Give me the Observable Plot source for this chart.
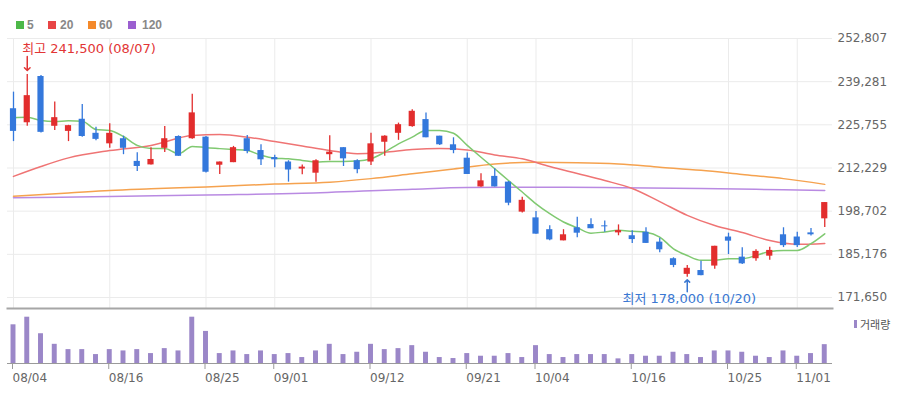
<!DOCTYPE html>
<html><head><meta charset="utf-8">
<script src="https://cdn.jsdelivr.net/npm/d3@7"></script>
<script src="https://cdn.jsdelivr.net/npm/@observablehq/plot@0.6"></script>
<style>
html,body{margin:0;padding:0;background:#fff;}
#wrap{position:relative;width:905px;height:395px;overflow:hidden;font-family:"DejaVu Sans","Noto Sans CJK KR",sans-serif;}
.sq{position:absolute;width:8px;height:8px;top:21px;}
.lg{position:absolute;font:bold 12px "Liberation Sans",Arial,sans-serif;color:#888;line-height:12px;top:19px;}
</style></head><body><div id="wrap"></div>
<script>
// ---- data ----
const dates = ["08/04","08/07","08/08","08/09","08/10","08/11","08/14","08/16","08/17","08/18",
"08/21","08/22","08/23","08/24","08/25","08/28","08/29","08/30","08/31","09/01",
"09/04","09/05","09/06","09/07","09/08","09/11","09/12","09/13","09/14","09/15",
"09/18","09/19","09/20","09/21","09/22","09/25","09/26","09/27","10/04","10/05",
"10/06","10/10","10/11","10/12","10/13","10/16","10/17","10/18","10/19","10/20",
"10/23","10/24","10/25","10/26","10/27","10/30","10/31","11/01","11/02","11/03"];

const opens = [230800,226400,240900,225300,223700,227500,223100,219800,221400,214300,
213200,218400,222100,221400,221900,213100,213900,221400,217700,215500,
214100,211900,210600,216400,218600,214500,214100,220300,223100,225200,
227400,222200,219500,215300,206300,209600,207800,198400,196600,192900,
189400,193500,194500,194100,191900,191000,192100,189000,183800,178900,
180100,181500,190600,184300,183800,184600,191300,190600,191900,196300];
const highs = [236000,241500,241200,232900,225600,232100,225000,226100,222200,217000,
218600,225200,222300,235300,222100,214100,219000,222400,219500,216200,
214500,213200,214800,222300,218600,214800,223100,222300,226300,230500,
229500,222200,221700,216900,210400,212000,208000,203100,198600,194100,
192900,196800,196300,195600,194400,192600,193500,190200,184100,181700,
183000,187700,191800,187200,186600,187400,193500,192100,193300,201400];
const lows = [220500,225300,223200,224000,220500,221900,220800,218400,216400,211100,
213200,217100,215900,221200,210700,210200,213900,216700,213000,212300,
207800,210100,207800,214500,212700,210400,213000,215900,220900,225000,
221700,219300,216700,210200,206200,206300,200400,198100,191500,189400,
189400,190400,193200,192100,191000,188600,188600,185700,181000,178000,
178500,180500,185100,182000,183000,183300,187300,187300,190900,193600];
const closes = [223700,234900,223400,228000,225500,222100,221200,223100,218400,212700,
214900,221400,215900,229500,210900,214100,218600,217400,214800,214800,
211600,212500,214500,217200,215100,211700,219800,222200,225800,230000,
221700,219500,217700,210200,208200,206300,201200,202100,191500,189700,
191300,191800,193200,193800,192600,189800,188600,186600,181700,180800,
178500,187700,189300,182200,186100,186400,187900,187900,191300,201400];

const volumes = [117,140,90,58,42,42,27,42,38,42,
30,45,38,140,97,30,38,27,38,27,
30,18,38,58,27,34,58,42,45,54,
34,18,15,30,22,22,30,18,54,27,
18,27,27,27,14,27,22,22,34,27,
18,38,38,34,22,18,38,22,30,57];

const ma5 = [228000,228100,227100,226800,227000,226900,224300,224000,222100,219300,
218300,218300,216700,219000,218600,218300,218000,217700,216200,215300,
215100,214600,214100,214300,214300,214400,215100,217200,219800,221900,
224000,224000,223100,219300,215600,212000,208300,204700,201000,197900,
195300,193500,191800,192200,192700,192400,192100,190600,186900,184800,
183300,183300,183800,183800,184800,186100,186400,186400,188500,191600];

const ma20Dates = ["08/04","08/08","08/10","08/16","08/21","08/24","08/28","08/30","09/01","09/05",
"09/07","09/11","09/13","09/15","09/19","09/21","09/25","09/27","10/05","10/10",
"10/12","10/16","10/18","10/20","10/24","10/26","10/30","11/01","11/03"];
const ma20 = [209600,212700,215400,217700,219300,222400,222700,221900,220500,219100,
217700,216700,217200,218000,218300,217900,216300,215100,212700,210500,
208300,205800,201700,197400,194200,192000,189500,188300,188600];

const ma60Dates = ["08/04","08/10","08/16","08/21","08/25","09/01","09/07","09/12","09/15","09/20",
"09/25","10/04","10/10","10/13","10/18","10/23","10/26","10/31","11/03"];
const ma60 = [203400,204400,205200,205700,206300,207200,207800,208900,210400,211900,
213500,214000,213900,213500,212500,211500,210200,208900,207100];

const ma120Dates = ["08/04","08/16","08/25","09/05","09/15","09/21","10/04","10/12","10/23","10/31","11/03"];
const ma120 = [202900,203300,203800,204300,205600,206100,206200,206100,205800,205400,205200];

const priceTicks = [252807,239281,225755,212229,198702,185176,171650];
const dateTicks = ["08/04","08/16","08/25","09/01","09/12","09/21","10/04","10/16","10/25","11/01"];

const hiPoint = [{date:"08/07", price:241500, label:"최고"}];
const loPoint = [{date:"10/20", price:178000, label:"최저"}];

const legendLabels = ["5","20","60","120"];
const legendColors = ["#4db848","#e84545","#f4892a","#9b5fd0"];
const volumeLabel = "거래량";

// ---- build ----
const RED = "#e22d2d", BLUE = "#3478dc";
const fmt = d3.format(",");
const candles = dates.map((d,i)=>({date:d, open:opens[i], high:highs[i], low:lows[i], close:closes[i],
  col: closes[i] >= opens[i] ? RED : BLUE}));
const toRows = (ds, vs) => ds.map((d,i)=>({date:d, v:vs[i]}));

const wrap = document.getElementById("wrap");

// legend (HTML above the charts)
const legX = [[16,27],[48,60],[88,99],[128,142]];
legendLabels.forEach((lab,i)=>{
  const s = document.createElement("div"); s.className="sq"; s.style.left=legX[i][0]+"px"; s.style.background=legendColors[i]; wrap.appendChild(s);
  const t = document.createElement("div"); t.className="lg"; t.style.left=legX[i][1]+"px"; t.textContent=lab; wrap.appendChild(t);
});

const xBase = {type:"band", domain:dates, range:[6.125,831.125], axis:null, label:null};

const price = Plot.plot({
  width:905, height:277, marginTop:6, marginBottom:1, marginLeft:7, marginRight:73,
  x: {...xBase, paddingInner:0.55, paddingOuter:0.275},
  y: {domain:[171650,252807], range:[265,6], axis:null},
  color: {type:"identity"},
  style: {background:"transparent", overflow:"visible", fontFamily:"DejaVu Sans, Noto Sans CJK KR, sans-serif"},
  marks: [
    Plot.ruleY(priceTicks, {y:d=>d, stroke:"#ebebeb"}),
    Plot.ruleX(dateTicks, {x:d=>d, stroke:"#ebebeb"}),
    Plot.frame({anchor:"bottom", stroke:"#a6a6a6", strokeWidth:2}),
    Plot.line(toRows(ma120Dates, ma120), {x:"date", y:"v", stroke:"#b98ae2", strokeWidth:1.5, curve:"monotone-x"}),
    Plot.line(toRows(ma60Dates, ma60), {x:"date", y:"v", stroke:"#f5a24f", strokeWidth:1.5, curve:"monotone-x"}),
    Plot.line(toRows(ma20Dates, ma20), {x:"date", y:"v", stroke:"#ef7474", strokeWidth:1.5, curve:"monotone-x"}),
    Plot.line(toRows(dates, ma5), {x:"date", y:"v", stroke:"#80c971", strokeWidth:1.5, curve:"monotone-x"}),
    Plot.ruleX(candles, {x:"date", y1:"low", y2:"high", stroke:"col", strokeWidth:1.3}),
    Plot.barY(candles, {x:"date", y1:"open", y2:"close", fill:"col"}),
    Plot.text(priceTicks, {y:d=>d, text:d=>fmt(d), frameAnchor:"right", textAnchor:"start", dx:5, fill:"#666", fontSize:12}),
    Plot.text(hiPoint, {x:"date", y:"price", text:d=>`${d.label} ${fmt(d.price)} (${d.date})`, dy:-26, dx:-5, textAnchor:"start", fill:"#e23535", fontSize:13}),
    Plot.vector(hiPoint, {x:"date", y:"price", length:14, rotate:180, anchor:"end", dy:-4, stroke:"#e23535", strokeWidth:1.5, shape:"arrow"}),
    Plot.text(loPoint, {x:"date", y:"price", text:d=>`${d.label} ${fmt(d.price)} (${d.date})`, dy:22, dx:2, textAnchor:"middle", fill:"#3a78d2", fontSize:13}),
    Plot.vector(loPoint, {x:"date", y:"price", length:12, rotate:0, anchor:"end", dy:2.5, stroke:"#3a78d2", strokeWidth:1.5, shape:"arrow"})
  ]
});
price.style.position="absolute"; price.style.left="0px"; price.style.top="32px";
wrap.appendChild(price);

const vol = Plot.plot({
  width:905, height:86, marginTop:0, marginBottom:32, marginLeft:7, marginRight:73,
  x: {...xBase, paddingInner:0.64, paddingOuter:0.32},
  y: {domain:[0,140], range:[54,7.7], axis:null},
  style: {background:"transparent", overflow:"visible", fontFamily:"DejaVu Sans, sans-serif", fontSize:"12px"},
  marks: [
    Plot.barY(toRows(dates, volumes), {x:"date", y:"v", fill:"#9b87c8"}),
    Plot.ruleY([0], {stroke:"#9a9a9a"}),
    Plot.axisX({ticks:dateTicks, anchor:"bottom", label:null, tickSize:6, tickPadding:4, textAnchor:"start", dx:-1, stroke:"#9a9a9a", fill:"#666", fontSize:12})
  ]
});
vol.style.position="absolute"; vol.style.left="0px"; vol.style.top="309px";
wrap.appendChild(vol);

// volume legend
const vb = document.createElement("div");
vb.style.cssText="position:absolute;left:854px;top:320px;width:3px;height:8px;background:#9b87c8;";
wrap.appendChild(vb);
const vt = document.createElement("div");
vt.style.cssText="position:absolute;left:860px;top:317px;font:11px 'Noto Sans CJK KR',sans-serif;color:#555;line-height:14px;";
vt.textContent = volumeLabel;
wrap.appendChild(vt);
</script></body></html>
